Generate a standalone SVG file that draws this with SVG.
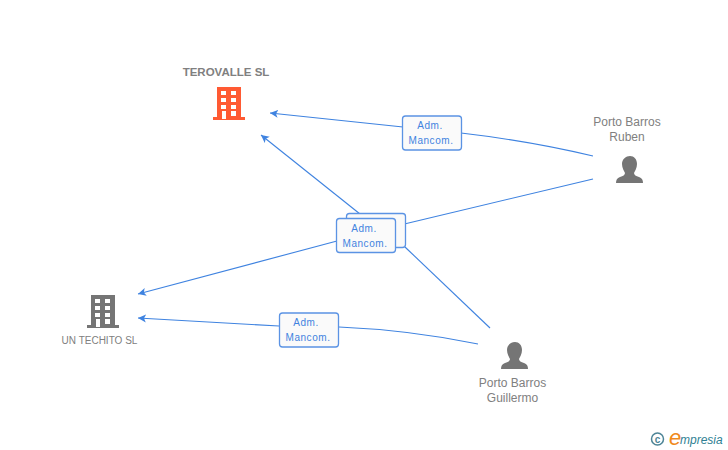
<svg xmlns="http://www.w3.org/2000/svg" width="728" height="450" viewBox="0 0 728 450">
<style>
text{font-family:"Liberation Sans",Arial,sans-serif}
.c{fill:none;stroke:#3f83e0;stroke-width:1.1}
.lb{fill:#fafafa;stroke:#5b93e4;stroke-width:1.3}
.lt{font-size:10px;fill:#3f83e0;text-anchor:middle;letter-spacing:.55px}
.n{font-size:12px;fill:#808080;text-anchor:middle}
.g{fill:#757575}
.w{fill:#fff}
</style>
<defs>
<marker id="a" markerWidth="10" markerHeight="10" refX="8" refY="5" orient="auto" markerUnits="userSpaceOnUse"><path d="M8 5 L0 1 L2 5 L0 9 Z" fill="#3f83e0"/></marker>
<g id="bld"><path d="M4 0H28V30H32V33H0V30H4Z"/><g class="w"><rect x="8" y="4" width="5" height="4"/><rect x="18" y="4" width="5" height="4"/><rect x="8" y="11" width="5" height="4"/><rect x="18" y="11" width="5" height="4"/><rect x="8" y="18" width="5" height="4"/><rect x="18" y="18" width="5" height="4"/><rect x="9" y="24" width="4" height="8"/><rect x="18" y="24" width="5" height="5"/></g></g>
<path id="per" d="M14 0C18 0 21 3 21 8C21 12 19 15 18 17C18 19 20 20 23 21C26 22 27 24 27 27H0C0 24 1 22 4 21C7 20 9 19 9 17C8 15 6 12 6 8C6 3 10 0 14 0Z"/>
</defs>
<g id="connectors">
<path class="c" d="M593 156Q530 141 461 133"/>
<path class="c" d="M403 127L270 113" marker-end="url(#a)"/>
<path class="c" d="M360 214L261 135" marker-end="url(#a)"/>
<path class="c" d="M593 179L396 226"/>
<path class="c" d="M337 241L138 294" marker-end="url(#a)"/>
<path class="c" d="M490 328L405 247"/>
<path class="c" d="M478 344Q410 330 339 327"/>
<path class="c" d="M279 326L138 318" marker-end="url(#a)"/>
</g>
<g id="label1"><rect class="lb" x="402.500" y="116" width="59" height="34" rx="3"/><text class="lt" x="430" y="129">Adm.</text><text class="lt" x="431" y="144">Mancom.</text></g>
<g id="label2"><rect class="lb" x="346.500" y="213.500" width="59" height="34" rx="3"/></g>
<g id="label3"><rect class="lb" x="336.500" y="218.500" width="59" height="34" rx="3"/><text class="lt" x="364" y="232">Adm.</text><text class="lt" x="365" y="247">Mancom.</text></g>
<g id="label4"><rect class="lb" x="279.500" y="313" width="59" height="34" rx="3"/><text class="lt" x="306" y="326">Adm.</text><text class="lt" x="308" y="341">Mancom.</text></g>
<g id="terovalle"><text x="226" y="76" font-size="11.500" font-weight="bold" fill="#808080" text-anchor="middle">TEROVALLE SL</text><use href="#bld" x="213" y="87" fill="#ff5a33"/></g>
<g id="untechito"><use href="#bld" x="87" y="295" fill="#757575"/><text x="99.500" y="344" font-size="10" fill="#808080" text-anchor="middle">UN TECHITO SL</text></g>
<g id="ruben"><text class="n" x="627" y="126">Porto Barros</text><text class="n" x="627" y="141">Ruben</text><use href="#per" class="g" x="616" y="156"/></g>
<g id="guillermo"><use href="#per" class="g" x="501" y="342"/><text class="n" x="512.500" y="387">Porto Barros</text><text class="n" x="512.500" y="402">Guillermo</text></g>
<g id="empresia"><circle cx="657.500" cy="439" r="6" fill="none" stroke="#4d8496" stroke-width="1.500"/><text x="657.500" y="442.500" font-size="10" font-weight="bold" fill="#4d8496" text-anchor="middle">c</text><text x="669" y="445" font-size="22" font-style="italic" font-family="Liberation Serif,serif" fill="#f08a1d">e</text><text x="680" y="444" font-size="12" font-style="italic" fill="#2f7f93">mpresia</text></g>
</svg>
